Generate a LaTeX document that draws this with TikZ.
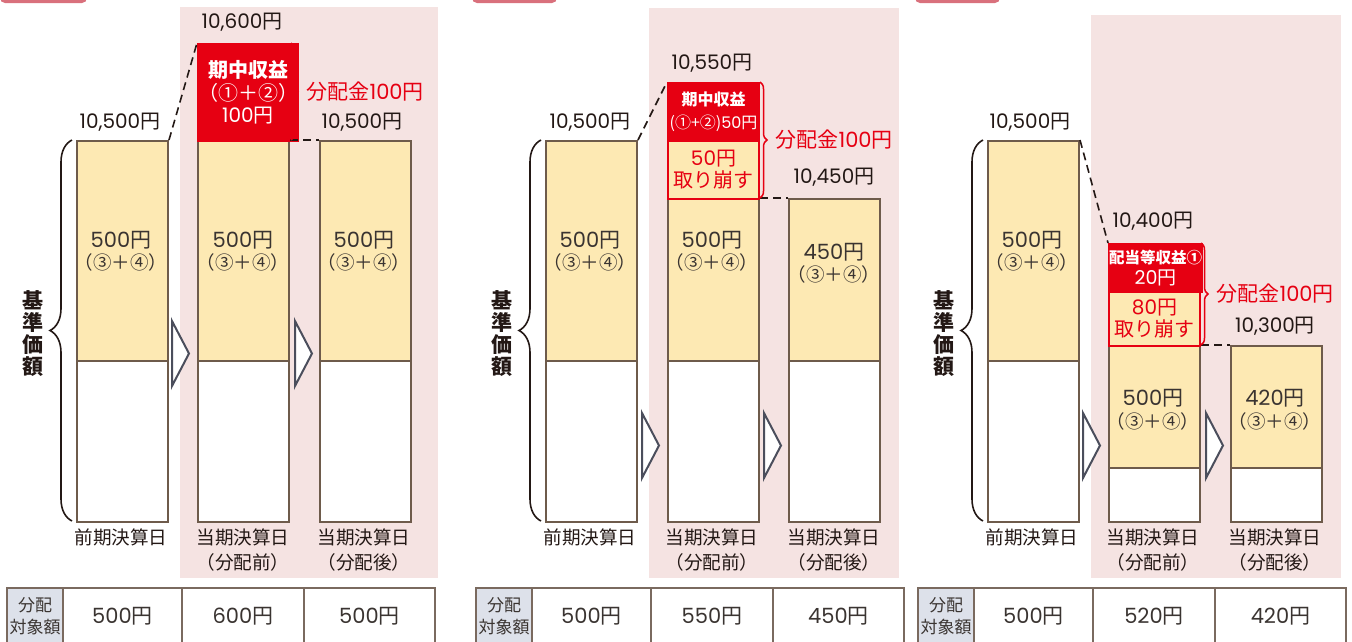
\documentclass[tikz,border=0pt]{standalone}
\usepackage{fontspec}
\setmainfont{Noto Sans CJK JP}
\newfontfamily\numfont{Poppins}
\usetikzlibrary{positioning,decorations.pathreplacing}

\definecolor{barfill}{HTML}{FDE9B3}
\definecolor{barline}{HTML}{6E5B4B}
\definecolor{bgpink}{HTML}{F5E3E2}
\definecolor{kred}{HTML}{E60012}
\definecolor{arrowgray}{HTML}{4B4E5C}
\definecolor{headfill}{HTML}{DDE1EA}
\definecolor{tabred}{HTML}{D9707C}
\definecolor{tabline}{HTML}{7A6A5F}
\definecolor{ink}{HTML}{231815}
\definecolor{softink}{HTML}{3A3431}

% yen amounts: digits in a rounder face
\newcommand{\amount}[1]{{\numfont #1}円}

\tikzset{
  yellowpart/.style={draw=barline, fill=barfill, line width=2pt, minimum width=91pt,
    inner sep=0pt, anchor=north west},
  whitepart/.style={yellowpart, fill=white},
  redblock/.style={draw=kred, fill=kred, line width=2pt, minimum width=91pt, inner sep=0pt,
    anchor=north west, text=white, align=center},
  cutbox/.style={redblock, fill=barfill, text=kred, font=\fontsize{20}{22}\selectfont},
  price/.style={text=ink, font=\fontsize{20}{22}\selectfont},
  inbar/.style={text=softink, font=\fontsize{21}{22}\selectfont},
  inbarsub/.style={text=softink, font=\fontsize{18.5}{19}\selectfont},
  datelabel/.style={text=ink, font=\fontsize{18.6}{25}\selectfont, align=center},
  paylabel/.style={text=kred, font=\fontsize{21}{22}\selectfont, anchor=west},
  dashline/.style={ink, line width=1.6pt, dash pattern=on 8pt off 5pt},
  steparrow/.style={draw=arrowgray, fill=white, line width=2pt, line join=miter},
  leftbrace/.style={ink, line width=1.6pt, decorate, decoration={brace, amplitude=22pt}},
  redbrace/.style={kred, line width=1.5pt, decorate, decoration={brace, amplitude=7pt}},
  kijunlabel/.style={text=ink, font=\bfseries\fontsize{21}{22}\selectfont, align=center},
  cell/.style={draw=tabline, line width=2pt, minimum height=56pt, inner sep=0pt,
    anchor=north west, text=softink, font=\fontsize{21}{22}\selectfont},
  headcell/.style={cell, fill=headfill, align=center, font=\fontsize{17}{22}\selectfont}
}

% table under each panel
\newcommand{\valuetable}[3]{%
  \node[headcell, minimum width=56pt] (t0) at (6,587) {分配\\対象額};
  \node[cell, minimum width=119pt] (t1) at (62,587) {\amount{#1}};
  \node[cell, minimum width=122pt] (t2) at (181,587) {\amount{#2}};
  \node[cell, minimum width=131pt] (t3) at (303,587) {\amount{#3}};
}

\begin{document}
\begin{tikzpicture}[x=1pt, y=-1pt]
\useasboundingbox (0,0) rectangle (1352,641);

% ---- panel 1 ----
\begin{scope}
  \fill[bgpink] (180,7) rectangle (438,578);
  \fill[tabred, rounded corners=5pt] (0,-20) rectangle (87,3);
  \node[yellowpart, minimum height=220pt] (a1) at (76,140) {};
  \node[whitepart, minimum height=161pt] (w1) at (76,360) {};
  \node[yellowpart, minimum height=220pt] (a2) at (197,140) {};
  \node[whitepart, minimum height=161pt] (w2) at (197,360) {};
  \node[yellowpart, minimum height=220pt] (a3) at (319,140) {};
  \node[whitepart, minimum height=161pt] (w3) at (319,360) {};
  \node[redblock, minimum height=97pt, font=\fontsize{20}{22.5}\selectfont] (r2) at (197,43)
    {\textbf{期中収益}\\（①＋②）\\\amount{100}};
  \node[price] (p1) at (120,122) {\amount{10,500}};
  \node[price] (p2) at (242,22) {\amount{10,600}};
  \node[price] (p3) at (362,122) {\amount{10,500}};
  \foreach \x in {121,243,364} {
    \node[inbar] at (\x,240) {\amount{500}};
    \node[inbarsub] at (\x,262) {（③＋④）};
  }
  \draw[dashline] (a1.north east) -- (r2.north west);
  \draw[dashline] (a2.north east) -- (a3.north west);
  \draw[redbrace] (291,43) -- (291,140);
  \node[paylabel] (d2) at (303,92) {分配金\amount{100}};
  \draw[leftbrace] (72,521) -- (72,140);
  \node[kijunlabel] (kijun) at (33,334) {基\\準\\価\\額};
  \foreach \x in {172,295}
    \draw[steparrow] (\x,321) -- ++(0,65) -- ++(17,-32.5) -- cycle;
  \node[datelabel] (e1) at (121,537) {前期決算日};
  \node[datelabel] (e2) at (243,550) {当期決算日\\（分配前）};
  \node[datelabel] (e3) at (364,550) {当期決算日\\（分配後）};
  \valuetable{500}{600}{500}
\end{scope}

% ---- panel 2 ----
\begin{scope}[shift={(469,0)}]
  \fill[bgpink] (180,8) rectangle (430,578);
  \fill[tabred, rounded corners=5pt] (3,-20) rectangle (88,3);
  \node[yellowpart, minimum height=220pt] (a1) at (76,140) {};
  \node[whitepart, minimum height=161pt] (w1) at (76,360) {};
  \node[yellowpart, minimum height=162pt] (a2) at (198,198) {};
  \node[whitepart, minimum height=161pt] (w2) at (198,360) {};
  \node[yellowpart, minimum height=162pt] (a3) at (319,198) {};
  \node[whitepart, minimum height=161pt] (w3) at (319,360) {};
  \node[redblock, minimum height=58pt, font=\fontsize{16}{23}\selectfont] (r2) at (198,82)
    {\textbf{期中収益}\\(①+②)\amount{50}};
  \node[cutbox, minimum height=58pt] (k2) at (198,140) {\amount{50}\\取り崩す};
  \node[price] (p1) at (121,122) {\amount{10,500}};
  \node[price] (p2) at (243,63) {\amount{10,550}};
  \node[price] (p3) at (365,177) {\amount{10,450}};
  \foreach \x in {121,243} {
    \node[inbar] at (\x,240) {\amount{500}};
    \node[inbarsub] at (\x,262) {（③＋④）};
  }
  \node[inbar] at (365,252) {\amount{450}};
  \node[inbarsub] at (365,274) {（③＋④）};
  \draw[dashline] (a1.north east) -- (r2.north west);
  \draw[dashline] (a2.north east) -- (a3.north west);
  \draw[redbrace] (291,82) -- (291,198);
  \node[paylabel] (d2) at (303,140) {分配金\amount{100}};
  \draw[leftbrace] (72,521) -- (72,140);
  \node[kijunlabel] (kijun) at (33,334) {基\\準\\価\\額};
  \foreach \x in {173,295}
    \draw[steparrow] (\x,413) -- ++(0,65) -- ++(17,-32.5) -- cycle;
  \node[datelabel] (e1) at (121,537) {前期決算日};
  \node[datelabel] (e2) at (243,550) {当期決算日\\（分配前）};
  \node[datelabel] (e3) at (365,550) {当期決算日\\（分配後）};
  \valuetable{500}{550}{450}
\end{scope}

% ---- panel 3 ----
\begin{scope}[shift={(911,0)}]
  \fill[bgpink] (180,15) rectangle (430,578);
  \fill[tabred, rounded corners=5pt] (4,-20) rectangle (89,3);
  \node[yellowpart, minimum height=220pt] (a1) at (76,140) {};
  \node[whitepart, minimum height=161pt] (w1) at (76,360) {};
  \node[yellowpart, minimum height=122pt] (a2) at (197,345) {};
  \node[whitepart, minimum height=54pt] (w2) at (197,467) {};
  \node[yellowpart, minimum height=122pt] (a3) at (319,345) {};
  \node[whitepart, minimum height=54pt] (w3) at (319,467) {};
  \node[redblock, minimum height=48pt, font=\fontsize{15.5}{21}\selectfont] (r2) at (197,243)
    {\textbf{配当等収益①}\\{\fontsize{19}{21}\selectfont\amount{20}}};
  \node[cutbox, minimum height=54pt] (k2) at (197,291) {\amount{80}\\取り崩す};
  \node[price] (p1) at (119,122) {\amount{10,500}};
  \node[price] (p2) at (242,221) {\amount{10,400}};
  \node[price] (p3) at (364,326) {\amount{10,300}};
  \node[inbar] at (121,240) {\amount{500}};
  \node[inbarsub] at (121,262) {（③＋④）};
  \node[inbar] at (242,398) {\amount{500}};
  \node[inbarsub] at (242,421) {（③＋④）};
  \node[inbar] at (364,398) {\amount{420}};
  \node[inbarsub] at (364,421) {（③＋④）};
  \draw[dashline] (a1.north east) -- (r2.north west);
  \draw[dashline] (a2.north east) -- (a3.north west);
  \draw[redbrace] (290,243) -- (290,345);
  \node[paylabel] (d2) at (302,294) {分配金\amount{100}};
  \draw[leftbrace] (72,521) -- (72,140);
  \node[kijunlabel] (kijun) at (33,334) {基\\準\\価\\額};
  \foreach \x in {172,295}
    \draw[steparrow] (\x,413) -- ++(0,65) -- ++(17,-32.5) -- cycle;
  \node[datelabel] (e1) at (121,537) {前期決算日};
  \node[datelabel] (e2) at (242,550) {当期決算日\\（分配前）};
  \node[datelabel] (e3) at (364,550) {当期決算日\\（分配後）};
  \valuetable{500}{520}{420}
\end{scope}
\end{tikzpicture}
\end{document}
